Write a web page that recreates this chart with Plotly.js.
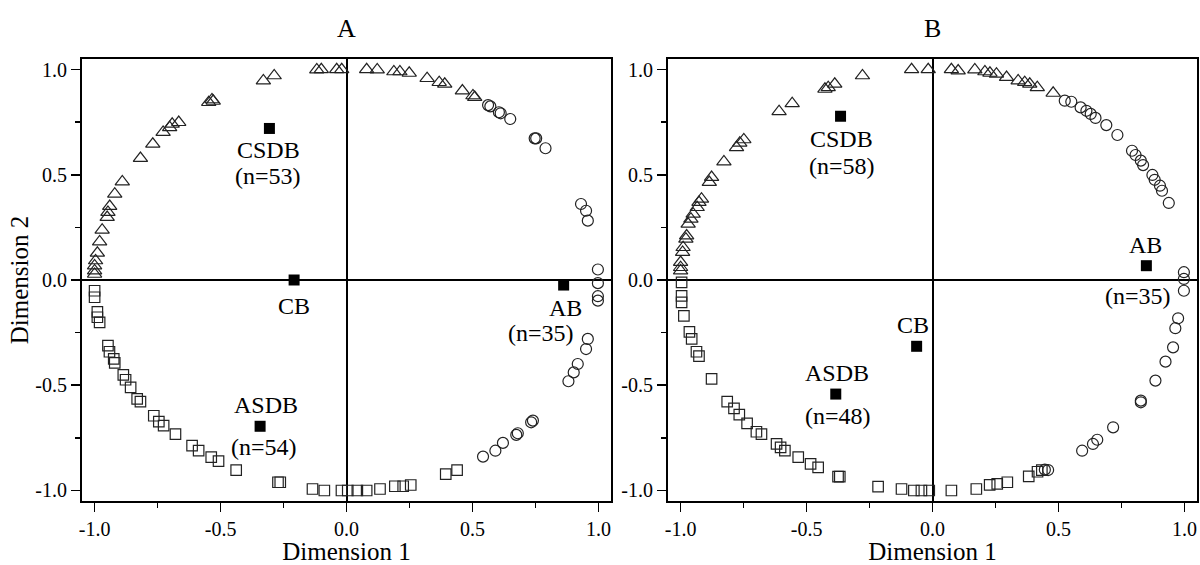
<!DOCTYPE html>
<html>
<head>
<meta charset="utf-8">
<script src="https://cdn.plot.ly/plotly-3.0.1.min.js"></script>
<style>html,body{margin:0;padding:0;background:#fff;}#chart{width:1200px;height:565px;}</style>
</head>
<body>
<div id="chart"></div>
<script>
// ---------- Texts ----------
const panelTitles = ['A', 'B'];
const xAxisTitle = 'Dimension 1';
const yAxisTitle = 'Dimension 2';

// ---------- Panel A ----------
const xA_tri = [-1.0,-1.0,-1.0,-0.996,-0.989,-0.98,-0.97,-0.95,-0.947,-0.94,-0.92,-0.89,-0.818,-0.769,-0.728,-0.702,-0.692,-0.666,-0.547,-0.534,-0.529,-0.33,-0.287,-0.118,-0.10,-0.039,-0.019,0.08,0.122,0.188,0.212,0.249,0.32,0.368,0.39,0.46,0.502,0.509];
const yA_tri = [0.028,0.044,0.068,0.092,0.128,0.182,0.238,0.298,0.322,0.35,0.409,0.467,0.578,0.646,0.702,0.725,0.741,0.749,0.844,0.857,0.85,0.947,0.971,0.999,1.0,1.0,1.0,1.0,0.999,0.99,0.99,0.983,0.958,0.939,0.931,0.899,0.876,0.868];

const xA_cir = [0.562,0.571,0.605,0.612,0.65,0.747,0.753,0.79,0.931,0.951,0.958,0.998,0.998,0.998,0.998,0.958,0.951,0.918,0.902,0.881,0.74,0.733,0.68,0.674,0.621,0.591,0.542];
const yA_cir = [0.831,0.825,0.797,0.792,0.765,0.673,0.673,0.626,0.361,0.329,0.282,0.05,-0.015,-0.077,-0.098,-0.28,-0.328,-0.399,-0.439,-0.481,-0.668,-0.676,-0.728,-0.736,-0.774,-0.811,-0.839];

const xA_sq = [-1.0,-1.0,-0.989,-0.989,-0.98,-0.947,-0.941,-0.924,-0.92,-0.886,-0.877,-0.857,-0.831,-0.818,-0.765,-0.745,-0.726,-0.679,-0.613,-0.587,-0.537,-0.508,-0.438,-0.272,-0.263,-0.135,-0.088,-0.02,0.005,0.043,0.08,0.133,0.192,0.225,0.255,0.394,0.439];
const yA_sq = [-0.051,-0.082,-0.151,-0.177,-0.201,-0.312,-0.341,-0.375,-0.394,-0.451,-0.474,-0.51,-0.565,-0.578,-0.645,-0.673,-0.692,-0.732,-0.787,-0.811,-0.842,-0.861,-0.903,-0.961,-0.961,-0.993,-1.0,-1.0,-1.0,-1.0,-1.0,-0.993,-0.98,-0.98,-0.974,-0.922,-0.903];

const centroidNames = ['CSDB','CB','AB','ASDB'];
const xA_cent = [-0.306,-0.208,0.862,-0.343];
const yA_cent = [0.72,0.0,-0.024,-0.695];
const nA_cent = [53,null,35,54];

// ---------- Panel B ----------
const xB_tri = [-1.0,-1.0,-1.0,-0.992,-0.99,-0.979,-0.976,-0.97,-0.959,-0.95,-0.934,-0.927,-0.917,-0.886,-0.877,-0.828,-0.778,-0.765,-0.749,-0.609,-0.557,-0.427,-0.414,-0.388,-0.278,-0.083,-0.017,0.075,0.102,0.168,0.208,0.228,0.254,0.294,0.34,0.366,0.386,0.416,0.479];
const yB_tri = [0.044,0.06,0.084,0.132,0.155,0.195,0.21,0.266,0.29,0.314,0.345,0.369,0.385,0.464,0.488,0.562,0.63,0.651,0.667,0.801,0.839,0.907,0.915,0.931,0.971,1.0,1.0,1.0,0.994,0.999,0.99,0.983,0.979,0.963,0.947,0.939,0.931,0.915,0.888];

const xB_cir = [0.525,0.551,0.588,0.611,0.628,0.647,0.69,0.734,0.792,0.806,0.827,0.836,0.873,0.882,0.903,0.911,0.938,0.998,0.998,0.998,0.975,0.964,0.955,0.925,0.885,0.827,0.827,0.717,0.654,0.637,0.594,0.459,0.446];
const yB_cir = [0.852,0.847,0.82,0.804,0.789,0.77,0.736,0.689,0.614,0.594,0.567,0.546,0.499,0.476,0.448,0.424,0.366,0.037,0.005,-0.051,-0.182,-0.229,-0.32,-0.388,-0.478,-0.573,-0.581,-0.7,-0.759,-0.779,-0.811,-0.903,-0.901];

const xB_sq = [-0.996,-0.996,-0.996,-0.987,-0.965,-0.956,-0.937,-0.927,-0.877,-0.815,-0.788,-0.767,-0.736,-0.699,-0.679,-0.619,-0.603,-0.586,-0.533,-0.484,-0.454,-0.375,-0.368,-0.216,-0.123,-0.074,-0.044,-0.013,0.075,0.174,0.227,0.257,0.297,0.382,0.417,0.434];
const yB_sq = [-0.011,-0.075,-0.106,-0.17,-0.246,-0.28,-0.341,-0.362,-0.47,-0.578,-0.61,-0.64,-0.681,-0.721,-0.732,-0.779,-0.795,-0.811,-0.842,-0.874,-0.89,-0.934,-0.934,-0.982,-0.993,-1.0,-1.0,-1.0,-1.0,-0.993,-0.973,-0.969,-0.961,-0.933,-0.911,-0.903];

const xB_cent = [-0.365,-0.063,0.849,-0.384];
const yB_cent = [0.778,-0.315,0.068,-0.542];
const nB_cent = [58,null,35,48];

// ---------- Ticks ----------
const tickVals = [-1.0,-0.5,0.0,0.5,1.0];
const tickText = ['-1.0','-0.5','0.0','0.5','1.0'];
const minorVals = [-0.75,-0.25,0.25,0.75];

// ---------- Styles ----------
const FONT = 'Liberation Serif, Times New Roman, serif';
const openLine = '#222';
function pts(x, y, sym, size, xa, ya, name) {
  return {x: x, y: y, xaxis: xa, yaxis: ya, mode: 'markers', type: 'scatter', name: name,
    marker: {symbol: sym, size: size, color: openLine, line: {width: 1.2, color: openLine}},
    hoverinfo: 'x+y', showlegend: false, cliponaxis: false};
}
function cent(x, y, xa, ya) {
  return {x: x, y: y, xaxis: xa, yaxis: ya, mode: 'markers', type: 'scatter', name: 'centroid',
    marker: {symbol: 'square', size: 11, color: '#000'}, showlegend: false, text: centroidNames};
}
const data = [
  pts(xA_tri, yA_tri, 'triangle-up-open', 12.5, 'x', 'y', 'CSDB'),
  pts(xA_cir, yA_cir, 'circle-open', 11, 'x', 'y', 'AB'),
  pts(xA_sq, yA_sq, 'square-open', 10.5, 'x', 'y', 'ASDB'),
  cent(xA_cent, yA_cent, 'x', 'y'),
  pts(xB_tri, yB_tri, 'triangle-up-open', 12.5, 'x2', 'y2', 'CSDB'),
  pts(xB_cir, yB_cir, 'circle-open', 11, 'x2', 'y2', 'AB'),
  pts(xB_sq, yB_sq, 'square-open', 10.5, 'x2', 'y2', 'ASDB'),
  cent(xB_cent, yB_cent, 'x2', 'y2')
];

// label offsets (pixels): [name dx, name dy, n dx, n dy], dy positive = downward
const offA = [[-1,22,-1,48],[0,26,0,0],[2,23,-23,48],[6,-21,4,21]];
const offB = [[1,23,1,50],[-4,-21,0,0],[-1,-21,-8,30],[1,-21,2,22]];

const labelFont = {family: FONT, size: 24, color: '#000'};
const annotations = [];
function addLabels(xs, ys, ns, offs, xr, yr) {
  for (let i = 0; i < centroidNames.length; i++) {
    const o = offs[i];
    annotations.push({x: xs[i], y: ys[i], xref: xr, yref: yr, text: centroidNames[i], showarrow: false,
      xshift: o[0], yshift: -o[1], font: labelFont, xanchor: 'center', yanchor: 'middle'});
    if (ns[i] !== null) {
      annotations.push({x: xs[i], y: ys[i], xref: xr, yref: yr, text: '(n=' + ns[i] + ')', showarrow: false,
        xshift: o[2], yshift: -o[3], font: labelFont, xanchor: 'center', yanchor: 'middle'});
    }
  }
}
addLabels(xA_cent, yA_cent, nA_cent, offA, 'x', 'y');
addLabels(xB_cent, yB_cent, nB_cent, offB, 'x2', 'y2');

const W = 1200, H = 565;
const mL = 82, mR = 3, mT = 59, mB = 64;
const plotW = W - mL - mR;
const domA = [0, (611 - mL) / plotW];
const domB = [(668 - mL) / plotW, 1];

annotations.push({x: (domA[0] + domA[1]) / 2, y: 1, xref: 'paper', yref: 'paper', yshift: 31,
  text: panelTitles[0], showarrow: false, font: {family: FONT, size: 26, color: '#000'}, xanchor: 'center', yanchor: 'middle'});
annotations.push({x: (domB[0] + domB[1]) / 2, y: 1, xref: 'paper', yref: 'paper', yshift: 31,
  text: panelTitles[1], showarrow: false, font: {family: FONT, size: 26, color: '#000'}, xanchor: 'center', yanchor: 'middle'});

function xaxis(dom, anchor) {
  return {domain: dom, anchor: anchor, range: [-1.05, 1.05], tickmode: 'array', tickvals: tickVals, ticktext: tickText,
    ticks: 'outside', ticklen: 9, tickwidth: 1.5, tickcolor: '#000',
    minor: {tickvals: minorVals, ticks: 'outside', ticklen: 5, tickwidth: 1.5, tickcolor: '#000', showgrid: false},
    showline: true, linewidth: 2, linecolor: '#000', mirror: true, showgrid: false,
    zeroline: true, zerolinecolor: '#000', zerolinewidth: 2,
    tickfont: {family: FONT, size: 20, color: '#000'},
    title: {text: xAxisTitle, font: {family: FONT, size: 25, color: '#000'}, standoff: 6},
    automargin: false, fixedrange: true};
}
function yaxis(anchor, withTitle) {
  const a = {domain: [0, 1], anchor: anchor, range: [-1.05, 1.05], tickmode: 'array', tickvals: tickVals, ticktext: tickText,
    ticks: 'outside', ticklen: 9, tickwidth: 1.5, tickcolor: '#000',
    minor: {tickvals: minorVals, ticks: 'outside', ticklen: 5, tickwidth: 1.5, tickcolor: '#000', showgrid: false},
    showline: true, linewidth: 2, linecolor: '#000', mirror: true, showgrid: false,
    zeroline: true, zerolinecolor: '#000', zerolinewidth: 2,
    tickfont: {family: FONT, size: 20, color: '#000'},
    automargin: false, fixedrange: true};
  if (withTitle) a.title = {text: yAxisTitle, font: {family: FONT, size: 25, color: '#000'}, standoff: 0};
  return a;
}

const layout = {
  width: W, height: H,
  margin: {l: mL, r: mR, t: mT, b: mB, pad: 0},
  paper_bgcolor: '#fff', plot_bgcolor: '#fff',
  font: {family: FONT, color: '#000'},
  showlegend: false,
  xaxis: xaxis(domA, 'y'),
  yaxis: yaxis('x', true),
  xaxis2: xaxis(domB, 'y2'),
  yaxis2: yaxis('x2', false),
  annotations: annotations
};

Plotly.newPlot('chart', data, layout, {displayModeBar: false, staticPlot: true});
</script>
</body>
</html>
